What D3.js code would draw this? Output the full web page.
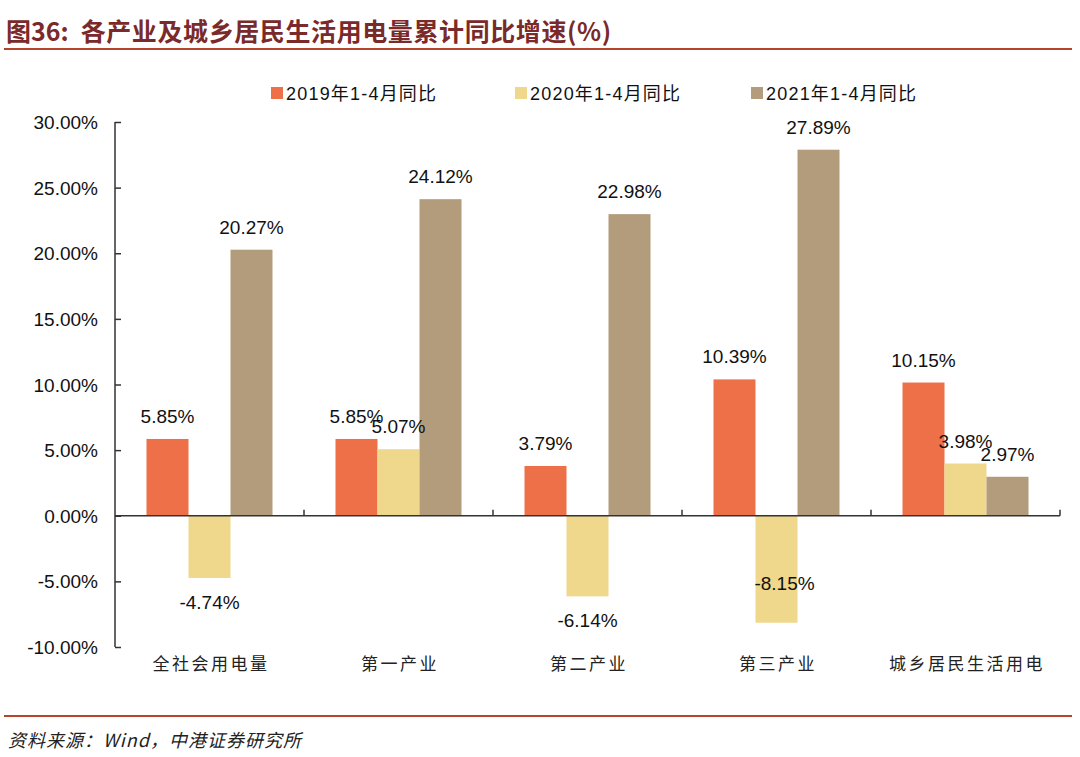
<!doctype html>
<meta charset="utf-8" />
<style>
    body { margin: 0; background: #fff; }
    text { font-family: "Liberation Sans", Arial, sans-serif; }
</style>
<svg></svg>

<script src="https://cdn.jsdelivr.net/npm/d3@7"></script>

<script>
    var categories = ['全社会用电量', '第一产业', '第二产业', '第三产业', '城乡居民生活用电'];
    var seriesNames = ['2019年1-4月同比', '2020年1-4月同比', '2021年1-4月同比'];
    var s2019 = [5.85, 5.85, 3.79, 10.39, 10.15];
    var s2020 = [-4.74, 5.07, -6.14, -8.15, 3.98];
    var s2021 = [20.27, 24.12, 22.98, 27.89, 2.97];
    var yTicks = [-10, -5, 0, 5, 10, 15, 20, 25, 30];
    var colors = ['#EE7049', '#EFD78B', '#B39C7C'];

    var W = 1080, H = 757;
    var svg = d3.select('svg')
        .attr('width', W)
        .attr('height', H)

    // title + rules
    var title = svg.append('text')
        .attr('x', 6)
        .attr('y', 41)
        .style('fill', '#7A2A2A')
        .style('font-size', '25px')
        .style('font-weight', 'bold')
    title.append('tspan').text('图36:')
        .style('font-family', '"Noto Sans CJK SC", sans-serif')
    title.append('tspan').attr('dx', 12).text('各产业及城乡居民生活用电量累计同比增速(%)')
        .style('font-family', '"Noto Sans CJK SC", sans-serif')
        .style('letter-spacing', '0.6px')

    svg.append('line')
        .attr('x1', 4).attr('x2', 1072).attr('y1', 49).attr('y2', 49)
        .style('stroke', '#B5452A').style('stroke-width', 2)
    svg.append('line')
        .attr('x1', 4).attr('x2', 1072).attr('y1', 716).attr('y2', 716)
        .style('stroke', '#B5452A').style('stroke-width', 2)

    svg.append('text')
        .attr('x', 8)
        .attr('y', 747)
        .style('font-size', '18px')
        .style('font-style', 'italic')
        .style('letter-spacing', '1px')
        .style('font-family', '"Noto Sans CJK SC", sans-serif')
        .style('fill', '#222')
        .text('资料来源：Wind，中港证券研究所')

    // scales
    var y = d3.scaleLinear().domain([-10, 30]).range([647, 122]);
    var x = d3.scaleBand().domain(categories).range([115, 1060]).padding(0);
    var xs = d3.scaleBand().domain([0, 1, 2])
        .range([x.bandwidth() / 6, x.bandwidth() * 5 / 6]).padding(0);

    var rows = categories.map(function (c, i) {
        return { cat: c, vals: [s2019[i], s2020[i], s2021[i]] };
    });

    // bars
    var g = svg.append('g');
    var groups = g.selectAll('g.cat').data(rows).enter().append('g')
        .attr('transform', function (d) { return 'translate(' + x(d.cat) + ',0)'; });

    groups.selectAll('rect').data(function (d) { return d.vals; }).enter().append('rect')
        .attr('x', function (d, i) { return xs(i); })
        .attr('width', xs.bandwidth())
        .attr('y', function (d) { return y(Math.max(0, d)); })
        .attr('height', function (d) { return Math.abs(y(d) - y(0)); })
        .style('fill', function (d, i) { return colors[i]; });

    // labels below deep negative bars would hit the category names, so pull them inside
    function tooLow(d) { return d < 0 && y(d) + 31 > 640; }

    groups.selectAll('text.val').data(function (d) { return d.vals; }).enter().append('text')
        .attr('class', 'val')
        .attr('x', function (d, i) { return xs(i) + xs.bandwidth() / 2 + (tooLow(d) ? 8 : 0); })
        .attr('y', function (d) {
            if (d >= 0) return y(d) - 16;
            return tooLow(d) ? y(d) - 33 : y(d) + 31;
        })
        .attr('text-anchor', 'middle')
        .style('font-size', '19px')
        .style('fill', '#111')
        .text(function (d) { return d.toFixed(2) + '%'; });

    // y axis
    var yAxis = d3.axisRight(y).tickValues(yTicks).tickSize(6).tickFormat('');
    var ya = svg.append('g').attr('transform', 'translate(115,0)').call(yAxis);
    ya.selectAll('path, line').style('stroke', '#333').style('stroke-width', 1.5);
    ya.select('.domain').attr('d', 'M0,' + y(30) + 'V' + y(-10));

    svg.append('g').selectAll('text').data(yTicks).enter().append('text')
        .attr('x', 98)
        .attr('y', function (d) { return y(d) + 7; })
        .attr('text-anchor', 'end')
        .style('font-size', '19px')
        .style('fill', '#111')
        .text(function (d) { return d.toFixed(2) + '%'; });

    // x axis (zero line + ticks between categories)
    svg.append('line')
        .attr('x1', 115).attr('x2', 1060).attr('y1', y(0)).attr('y2', y(0))
        .style('stroke', '#333').style('stroke-width', 1.5)
    svg.append('g').selectAll('line').data(categories.slice(1).concat(['end'])).enter().append('line')
        .attr('x1', function (d) { return d === 'end' ? 1060 : x(d); })
        .attr('x2', function (d) { return d === 'end' ? 1060 : x(d); })
        .attr('y1', y(0)).attr('y2', y(0) - 6)
        .style('stroke', '#333').style('stroke-width', 1.5)

    svg.append('g').selectAll('text').data(categories).enter().append('text')
        .attr('x', function (d) { return x(d) + x.bandwidth() / 2 + 1.5; })
        .attr('y', 670)
        .attr('text-anchor', 'middle')
        .style('font-size', '17px')
        .style('letter-spacing', '2.5px')
        .style('font-family', '"Noto Sans CJK SC", sans-serif')
        .style('fill', '#222')
        .text(function (d) { return d; });

    // legend
    var legendX = [271, 515, 751];
    var lg = svg.append('g').selectAll('g').data(seriesNames).enter().append('g')
        .attr('transform', function (d, i) { return 'translate(' + legendX[i] + ',87)'; });
    lg.append('rect')
        .attr('width', 12).attr('height', 12)
        .style('fill', function (d, i) { return colors[i]; });
    lg.append('text')
        .attr('x', 15).attr('y', 13)
        .style('font-size', '18px')
        .style('letter-spacing', '1.2px')
        .style('font-family', '"Liberation Sans", "Noto Sans CJK SC", sans-serif')
        .style('fill', '#111')
        .text(function (d) { return d; });
</script>
